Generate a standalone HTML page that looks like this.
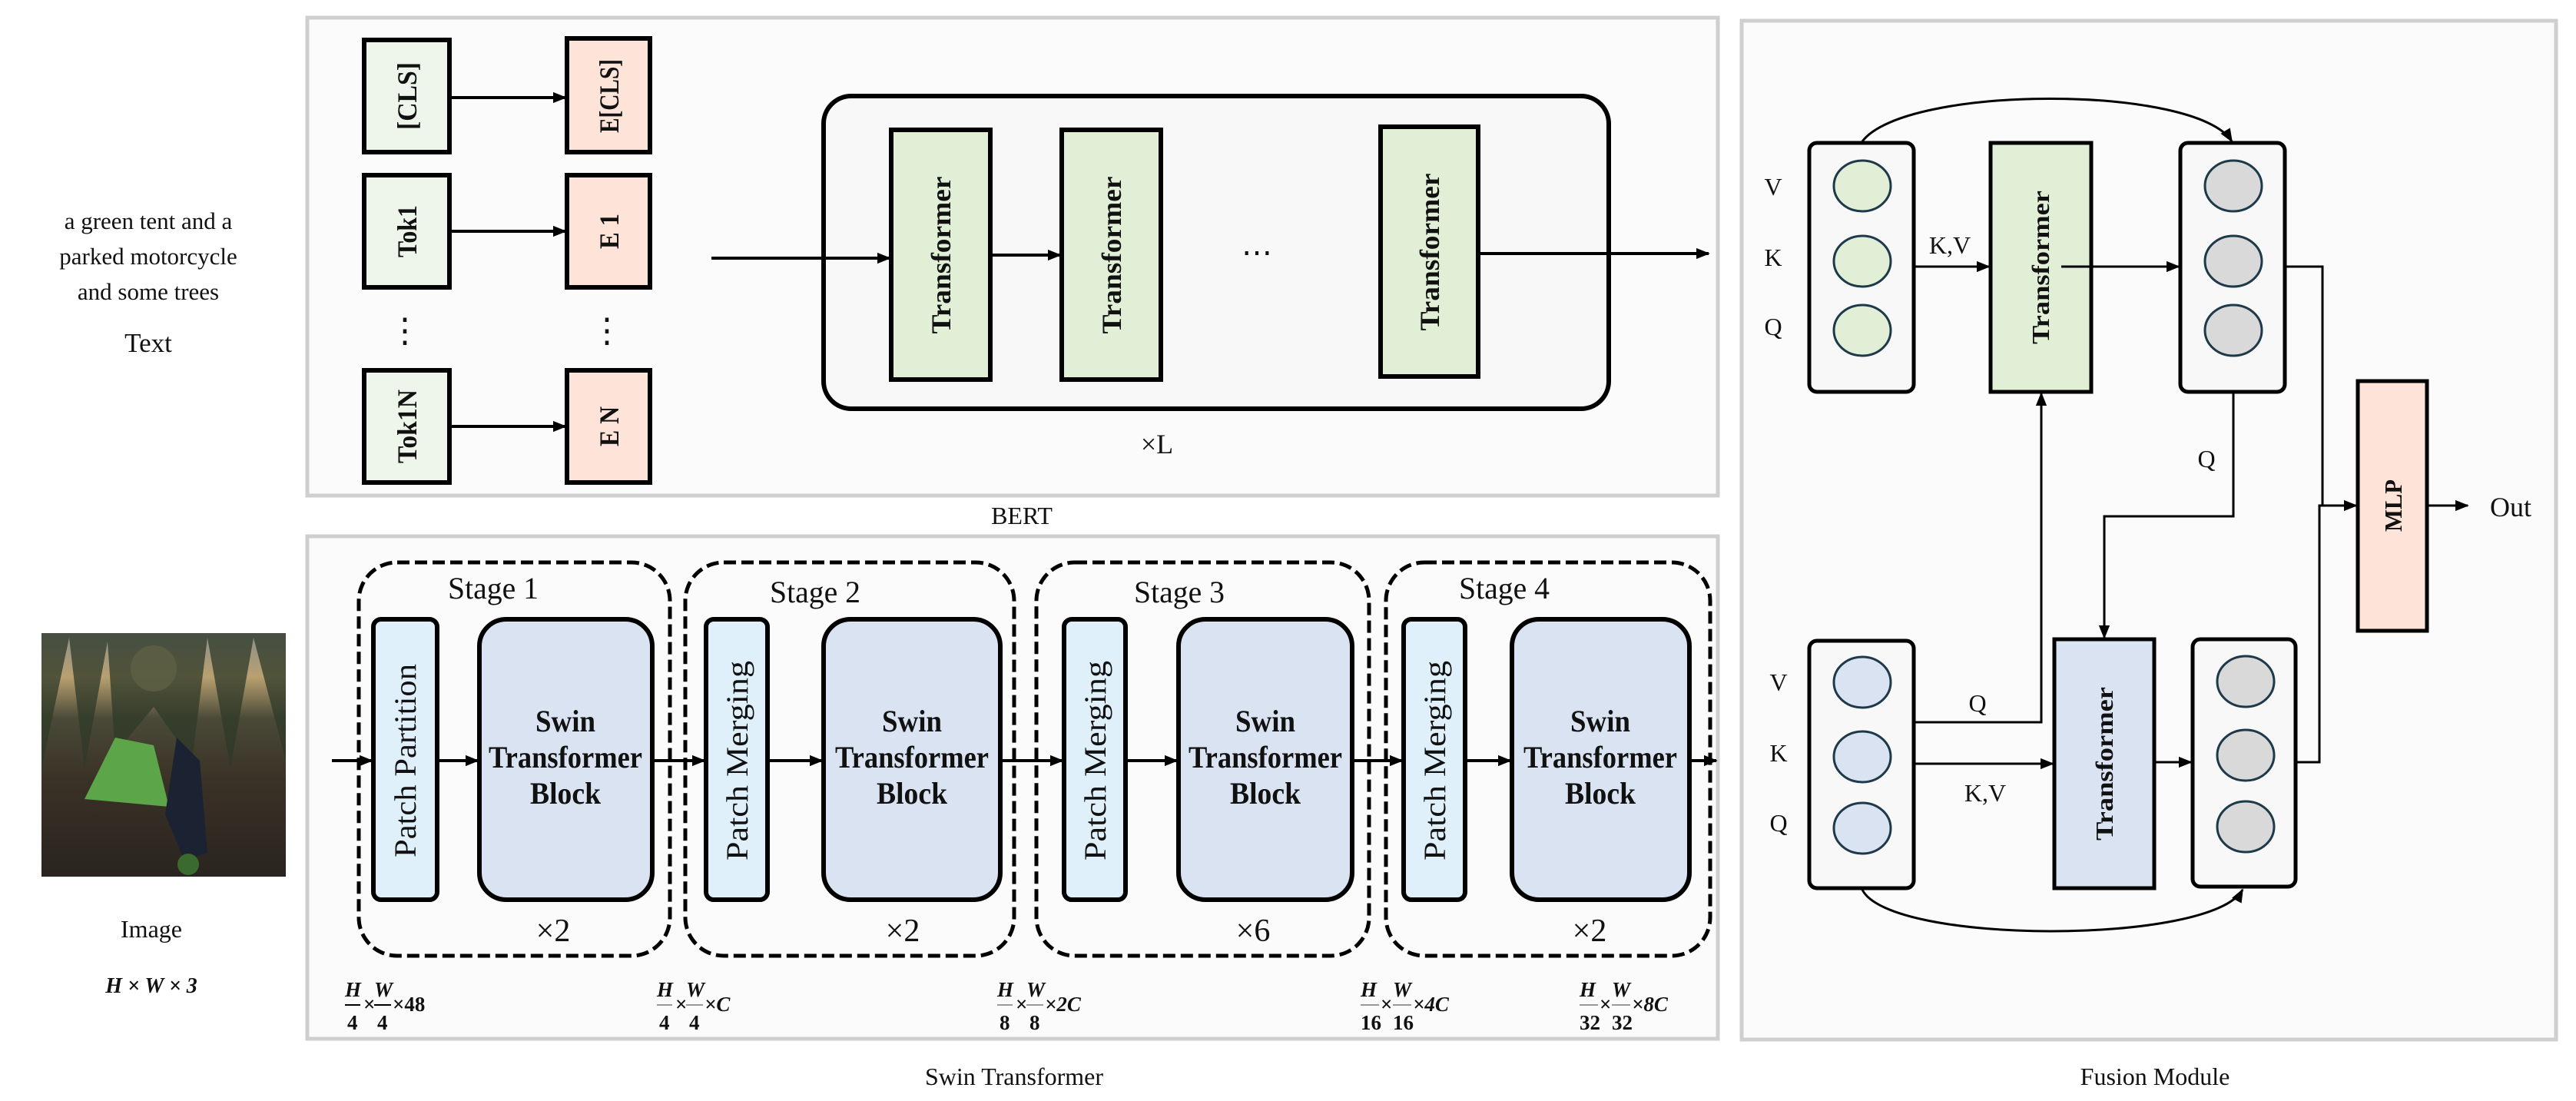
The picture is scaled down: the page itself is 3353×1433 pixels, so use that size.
<!DOCTYPE html>
<html><head><meta charset="utf-8"><style>
html,body{margin:0;padding:0;background:#fff}
svg{display:block}
text{font-family:"Liberation Serif","Times New Roman",serif;fill:#111}
.b{font-weight:bold}
</style></head><body>
<svg width="3353" height="1433" viewBox="0 0 3353 1433" xmlns="http://www.w3.org/2000/svg" font-family="Liberation Serif, serif">
<defs>
<marker id="a2" viewBox="0 0 10 10" refX="9" refY="5" markerWidth="18" markerHeight="18" orient="auto" markerUnits="userSpaceOnUse"><path d="M0,1 L10,5 L0,9 z" fill="#000"/></marker>
<linearGradient id="sky" x1="0" y1="0" x2="0" y2="1">
<stop offset="0" stop-color="#8a8f8c"/><stop offset="0.18" stop-color="#b9a070"/><stop offset="0.35" stop-color="#4a4a38"/><stop offset="0.6" stop-color="#3a3226"/><stop offset="1" stop-color="#2a2420"/></linearGradient>
</defs>

<rect x="400" y="23" width="1836" height="622" fill="#fbfbfb" stroke="#cfcfcf" stroke-width="5"/>
<rect x="400" y="698" width="1836" height="654" fill="#fbfbfb" stroke="#cfcfcf" stroke-width="5"/>
<rect x="2267" y="27" width="1060" height="1326" fill="#fbfbfb" stroke="#cfcfcf" stroke-width="5"/>

<text x="1330" y="682" font-size="32" text-anchor="middle">BERT</text>
<text x="1320" y="1412" font-size="32" text-anchor="middle">Swin Transformer</text>
<text x="2805" y="1412" font-size="32" text-anchor="middle">Fusion Module</text>

<text font-size="31" text-anchor="middle"><tspan x="193" y="298">a green tent and a</tspan><tspan x="193" y="344">parked motorcycle</tspan><tspan x="193" y="390">and some trees</tspan></text>
<text x="193" y="458" font-size="35" text-anchor="middle">Text</text>

<rect x="54" y="824" width="318" height="317" fill="url(#sky)"/>
<ellipse cx="200" cy="870" rx="30" ry="30" fill="#e8d39a" opacity="0.8"/>
<path d="M54,824 L54,1000 L90,830 L110,1000 L140,835 L150,980 L200,920 L250,990 L270,830 L300,1000 L330,830 L372,990 L372,824 Z" fill="#2f3a28" opacity="0.75"/>
<path d="M110,1040 L150,960 L200,970 L220,1050 Z" fill="#5ca548"/>
<path d="M230,960 L260,990 L270,1110 L240,1120 L215,1060 Z" fill="#1b2333"/>
<circle cx="245" cy="1125" r="14" fill="#3a6a30"/>

<text x="197" y="1220" font-size="32" text-anchor="middle">Image</text>
<text x="197" y="1292" font-size="28" text-anchor="middle" font-style="italic" class="b">H × W × 3</text>

<g stroke="#000" stroke-width="6">
<rect x="474" y="52" width="111" height="146" fill="#eef6ec"/>
<rect x="738" y="50" width="108" height="148" fill="#fde3d8"/>
<rect x="474" y="228" width="111" height="146" fill="#eef6ec"/>
<rect x="738" y="228" width="108" height="146" fill="#fde3d8"/>
<rect x="474" y="482" width="111" height="146" fill="#eef6ec"/>
<rect x="738" y="482" width="108" height="146" fill="#fde3d8"/>
</g>
<g stroke="#000" stroke-width="4" marker-end="url(#a2)">
<line x1="585" y1="127" x2="736" y2="127"/>
<line x1="585" y1="301" x2="736" y2="301"/>
<line x1="585" y1="555" x2="736" y2="555"/>
</g>
<g font-size="36" class="b">
<text transform="translate(542,125) rotate(-90)" text-anchor="middle" textLength="88" lengthAdjust="spacingAndGlyphs">[CLS]</text>
<text transform="translate(805,125) rotate(-90)" text-anchor="middle" textLength="96" lengthAdjust="spacingAndGlyphs">E[CLS]</text>
<text transform="translate(542,301) rotate(-90)" text-anchor="middle" textLength="68" lengthAdjust="spacingAndGlyphs">Tok1</text>
<text transform="translate(805,301) rotate(-90)" text-anchor="middle" textLength="46" lengthAdjust="spacingAndGlyphs">E 1</text>
<text transform="translate(542,555) rotate(-90)" text-anchor="middle" textLength="96" lengthAdjust="spacingAndGlyphs">Tok1N</text>
<text transform="translate(805,555) rotate(-90)" text-anchor="middle" textLength="52" lengthAdjust="spacingAndGlyphs">E N</text>
</g>
<text x="527" y="445" font-size="44" text-anchor="middle">⋮</text>
<text x="790" y="445" font-size="44" text-anchor="middle">⋮</text>

<rect x="1072" y="125" width="1022" height="407" rx="36" fill="#f8f8f8" stroke="#000" stroke-width="6"/>
<g stroke="#000" stroke-width="6" fill="#e0efd6">
<rect x="1160" y="169" width="129" height="325"/>
<rect x="1382" y="169" width="129" height="325"/>
<rect x="1797" y="165" width="127" height="325"/>
</g>
<g font-size="36" class="b">
<text transform="translate(1237,332) rotate(-90)" text-anchor="middle" textLength="205" lengthAdjust="spacingAndGlyphs">Transformer</text>
<text transform="translate(1459,332) rotate(-90)" text-anchor="middle" textLength="205" lengthAdjust="spacingAndGlyphs">Transformer</text>
<text transform="translate(1873,328) rotate(-90)" text-anchor="middle" textLength="205" lengthAdjust="spacingAndGlyphs">Transformer</text>
</g>
<text x="1636" y="342" font-size="40" text-anchor="middle">⋯</text>
<g stroke="#000" stroke-width="4" marker-end="url(#a2)">
<line x1="926" y1="336" x2="1158" y2="336"/>
<line x1="1289" y1="332" x2="1380" y2="332"/>
<line x1="1924" y1="330" x2="2224" y2="330"/>
</g>
<text x="1506" y="590" font-size="36" text-anchor="middle">×L</text>

<g fill="none" stroke="#000" stroke-width="5" stroke-dasharray="16,7">
<rect x="467" y="732" width="405" height="512" rx="50"/>
<rect x="892" y="732" width="428" height="512" rx="50"/>
<rect x="1349" y="732" width="433" height="512" rx="50"/>
<rect x="1804" y="732" width="422" height="512" rx="50"/>
</g>
<g font-size="40" text-anchor="middle">
<text x="642" y="779" textLength="118" lengthAdjust="spacingAndGlyphs">Stage 1</text>
<text x="1061" y="784" textLength="118" lengthAdjust="spacingAndGlyphs">Stage 2</text>
<text x="1535" y="784" textLength="118" lengthAdjust="spacingAndGlyphs">Stage 3</text>
<text x="1958" y="779" textLength="118" lengthAdjust="spacingAndGlyphs">Stage 4</text>
</g>
<g stroke="#000" stroke-width="6">
<rect x="486" y="806" width="83" height="365" rx="10" fill="#dff0fb"/>
<rect x="919" y="806" width="80" height="365" rx="10" fill="#dff0fb"/>
<rect x="1385" y="806" width="80" height="365" rx="10" fill="#dff0fb"/>
<rect x="1827" y="806" width="80" height="365" rx="10" fill="#dff0fb"/>
<rect x="624" y="806" width="225" height="365" rx="35" fill="#d9e3f1"/>
<rect x="1072" y="806" width="230" height="365" rx="35" fill="#d9e3f1"/>
<rect x="1534" y="806" width="226" height="365" rx="35" fill="#d9e3f1"/>
<rect x="1968" y="806" width="231" height="365" rx="35" fill="#d9e3f1"/>
</g>
<g font-size="40">
<text transform="translate(541,990) rotate(-90)" text-anchor="middle" textLength="252" lengthAdjust="spacingAndGlyphs">Patch  Partition</text>
<text transform="translate(973,990) rotate(-90)" text-anchor="middle" textLength="260" lengthAdjust="spacingAndGlyphs">Patch  Merging</text>
<text transform="translate(1439,990) rotate(-90)" text-anchor="middle" textLength="260" lengthAdjust="spacingAndGlyphs">Patch  Merging</text>
<text transform="translate(1881,990) rotate(-90)" text-anchor="middle" textLength="260" lengthAdjust="spacingAndGlyphs">Patch  Merging</text>
</g>
<g font-size="40" class="b" text-anchor="middle">
<g transform="translate(736,0)"><text x="0" y="952" textLength="78" lengthAdjust="spacingAndGlyphs">Swin</text><text x="0" y="999" textLength="200" lengthAdjust="spacingAndGlyphs">Transformer</text><text x="0" y="1046" textLength="92" lengthAdjust="spacingAndGlyphs">Block</text></g>
<g transform="translate(1187,0)"><text x="0" y="952" textLength="78" lengthAdjust="spacingAndGlyphs">Swin</text><text x="0" y="999" textLength="200" lengthAdjust="spacingAndGlyphs">Transformer</text><text x="0" y="1046" textLength="92" lengthAdjust="spacingAndGlyphs">Block</text></g>
<g transform="translate(1647,0)"><text x="0" y="952" textLength="78" lengthAdjust="spacingAndGlyphs">Swin</text><text x="0" y="999" textLength="200" lengthAdjust="spacingAndGlyphs">Transformer</text><text x="0" y="1046" textLength="92" lengthAdjust="spacingAndGlyphs">Block</text></g>
<g transform="translate(2083,0)"><text x="0" y="952" textLength="78" lengthAdjust="spacingAndGlyphs">Swin</text><text x="0" y="999" textLength="200" lengthAdjust="spacingAndGlyphs">Transformer</text><text x="0" y="1046" textLength="92" lengthAdjust="spacingAndGlyphs">Block</text></g>
</g>
<g stroke="#000" stroke-width="4" marker-end="url(#a2)">
<line x1="432" y1="990" x2="484" y2="990"/>
<line x1="569" y1="990" x2="622" y2="990"/>
<line x1="849" y1="990" x2="917" y2="990"/>
<line x1="999" y1="990" x2="1070" y2="990"/>
<line x1="1302" y1="990" x2="1383" y2="990"/>
<line x1="1465" y1="990" x2="1532" y2="990"/>
<line x1="1760" y1="990" x2="1825" y2="990"/>
<line x1="1907" y1="990" x2="1966" y2="990"/>
<line x1="2199" y1="990" x2="2234" y2="990"/>
</g>
<g font-size="42" text-anchor="middle">
<text x="720" y="1225">×2</text><text x="1175" y="1225">×2</text><text x="1631" y="1225">×6</text><text x="2069" y="1225">×2</text>
</g>

<g font-size="27" class="b" font-style="italic">
<g transform="translate(449,0)">
<text x="0" y="1297">H</text><line x1="0" y1="1308" x2="20" y2="1308" stroke="#000" stroke-width="2"/><text x="3" y="1340" font-style="normal">4</text>
<text x="24" y="1316" font-style="normal">×</text>
<text x="38" y="1297">W</text><line x1="38" y1="1308" x2="60" y2="1308" stroke="#000" stroke-width="2"/><text x="42" y="1340" font-style="normal">4</text>
<text x="62" y="1316" font-style="normal">×48</text>
</g>
<g transform="translate(855,0)">
<text x="0" y="1297">H</text><line x1="0" y1="1308" x2="20" y2="1308" stroke="#999" stroke-width="2"/><text x="3" y="1340" font-style="normal">4</text>
<text x="24" y="1316" font-style="normal">×</text>
<text x="38" y="1297">W</text><line x1="38" y1="1308" x2="60" y2="1308" stroke="#999" stroke-width="2"/><text x="42" y="1340" font-style="normal">4</text>
<text x="62" y="1316">×C</text>
</g>
<g transform="translate(1298,0)">
<text x="0" y="1297">H</text><line x1="0" y1="1308" x2="20" y2="1308" stroke="#999" stroke-width="2"/><text x="3" y="1340" font-style="normal">8</text>
<text x="24" y="1316" font-style="normal">×</text>
<text x="38" y="1297">W</text><line x1="38" y1="1308" x2="60" y2="1308" stroke="#999" stroke-width="2"/><text x="42" y="1340" font-style="normal">8</text>
<text x="62" y="1316">×2C</text>
</g>
<g transform="translate(1771,0)">
<text x="0" y="1297">H</text><line x1="0" y1="1308" x2="24" y2="1308" stroke="#999" stroke-width="2"/><text x="0" y="1340" font-style="normal">16</text>
<text x="26" y="1316" font-style="normal">×</text>
<text x="42" y="1297">W</text><line x1="42" y1="1308" x2="66" y2="1308" stroke="#999" stroke-width="2"/><text x="42" y="1340" font-style="normal">16</text>
<text x="68" y="1316">×4C</text>
</g>
<g transform="translate(2056,0)">
<text x="0" y="1297">H</text><line x1="0" y1="1308" x2="24" y2="1308" stroke="#999" stroke-width="2"/><text x="0" y="1340" font-style="normal">32</text>
<text x="26" y="1316" font-style="normal">×</text>
<text x="42" y="1297">W</text><line x1="42" y1="1308" x2="66" y2="1308" stroke="#999" stroke-width="2"/><text x="42" y="1340" font-style="normal">32</text>
<text x="68" y="1316">×8C</text>
</g>
</g>

<g stroke="#000" stroke-width="5">
<rect x="2355" y="186" width="136" height="324" rx="10" fill="#f8f8f8"/>
<rect x="2838" y="186" width="136" height="324" rx="10" fill="#f8f8f8"/>
<rect x="2355" y="834" width="136" height="322" rx="10" fill="#f8f8f8"/>
<rect x="2854" y="832" width="134" height="322" rx="10" fill="#f8f8f8"/>
<rect x="2591" y="186" width="131" height="324" fill="#e0efd6"/>
<rect x="2674" y="832" width="130" height="324" fill="#d9e3f1"/>
<rect x="3069" y="496" width="90" height="325" fill="#fde3d8"/>
</g>
<g stroke="#1e3a4a" stroke-width="3">
<ellipse cx="2424" cy="242" rx="37" ry="33" fill="#e0efd6"/>
<ellipse cx="2424" cy="340" rx="37" ry="33" fill="#e0efd6"/>
<ellipse cx="2424" cy="430" rx="37" ry="33" fill="#e0efd6"/>
<ellipse cx="2907" cy="242" rx="37" ry="33" fill="#d9d9d9"/>
<ellipse cx="2907" cy="340" rx="37" ry="33" fill="#d9d9d9"/>
<ellipse cx="2907" cy="430" rx="37" ry="33" fill="#d9d9d9"/>
<ellipse cx="2424" cy="888" rx="37" ry="33" fill="#d9e3f1"/>
<ellipse cx="2424" cy="985" rx="37" ry="33" fill="#d9e3f1"/>
<ellipse cx="2424" cy="1078" rx="37" ry="33" fill="#d9e3f1"/>
<ellipse cx="2923" cy="887" rx="37" ry="33" fill="#d9d9d9"/>
<ellipse cx="2923" cy="983" rx="37" ry="33" fill="#d9d9d9"/>
<ellipse cx="2923" cy="1076" rx="37" ry="33" fill="#d9d9d9"/>
</g>
<g font-size="32" text-anchor="middle">
<text x="2308" y="254">V</text><text x="2308" y="346">K</text><text x="2308" y="436">Q</text>
<text x="2315" y="899">V</text><text x="2315" y="991">K</text><text x="2315" y="1082">Q</text>
<text x="2538" y="330">K,V</text>
<text x="2872" y="608">Q</text>
<text x="2574" y="926">Q</text>
<text x="2584" y="1043">K,V</text>
<text x="3268" y="672" font-size="36">Out</text>
</g>
<g font-size="32" class="b">
<text transform="translate(2667,348) rotate(-90)" text-anchor="middle" textLength="200" lengthAdjust="spacingAndGlyphs">Transformer</text>
<text transform="translate(2750,994) rotate(-90)" text-anchor="middle" textLength="200" lengthAdjust="spacingAndGlyphs">Transformer</text>
<text transform="translate(3126,658) rotate(-90)" text-anchor="middle" textLength="68" lengthAdjust="spacingAndGlyphs">MLP</text>
</g>
<g fill="none" stroke="#000" stroke-width="3" marker-end="url(#a2)">
<line x1="2491" y1="347" x2="2589" y2="347"/>
<line x1="2683" y1="347" x2="2836" y2="347"/>
<path d="M2424,184 C2480,110 2860,110 2905,184"/>
<path d="M2907,510 L2907,672 L2739,672 L2739,830"/>
<path d="M2491,940 L2657,940 L2657,512"/>
<line x1="2491" y1="994" x2="2672" y2="994"/>
<line x1="2804" y1="992" x2="2852" y2="992"/>
<path d="M2424,1158 C2460,1230 2880,1230 2919,1158"/>
<line x1="3023" y1="658" x2="3067" y2="658"/>
<line x1="3159" y1="658" x2="3212" y2="658"/>
</g>
<g fill="none" stroke="#000" stroke-width="3">
<path d="M2974,347 L3023,347 L3023,658"/>
<path d="M2988,992 L3019,992 L3019,658 L3025,658"/>
</g>
</svg>
</body></html>
